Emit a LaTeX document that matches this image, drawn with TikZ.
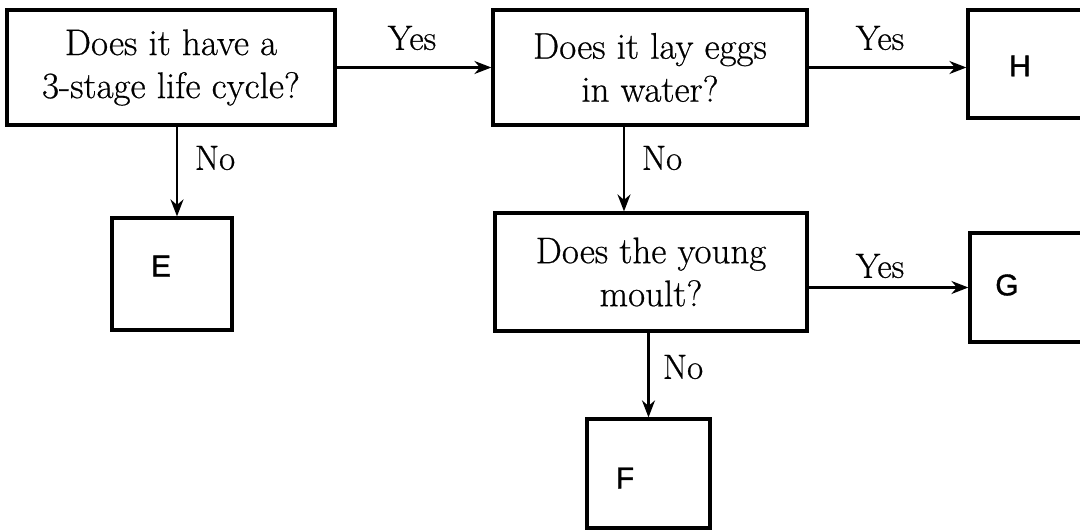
\documentclass[tikz,border=0pt]{standalone}
\usepackage{fontspec}
\setmainfont{Latin Modern Roman}[FakeBold=0.6]
\newfontfamily\lettfont{Liberation Sans}[FakeBold=1.2]
\usetikzlibrary{arrows.meta}
\begin{document}
\begin{tikzpicture}[x=1pt,y=-1pt,
  box/.style={draw, line width=3.2pt, rectangle, inner sep=0pt},
  qtext/.style={font=\fontsize{37}{43}\selectfont, align=center},
  lab/.style={font=\fontsize{35}{40}\selectfont, inner sep=0pt},
  letter/.style={font=\lettfont\fontsize{30}{32}\selectfont, inner sep=0pt},
  conn/.style={line width=2.2pt, -{Stealth[length=17pt,width=13pt]}}]
\useasboundingbox (0,0) rectangle (1080,532);
\clip (0,0) rectangle (1080,532);
% question boxes
\node[box, qtext, minimum width=328pt, minimum height=115pt] (q1) at (171,67.5) {Does it have a\\3-stage life cycle?};
\node[box, qtext, minimum width=314pt, minimum height=115pt] (q2) at (650,67.5) {Does it lay eggs\\in water?};
\node[box, qtext, minimum width=312pt, minimum height=118pt] (q3) at (651,272) {Does the young\\moult?};
% answer boxes
\node[box, minimum width=120pt, minimum height=112pt] (e) at (172,274) {};
\node[box, minimum width=123pt, minimum height=109pt] (f) at (648.5,473.5) {};
\node[box, minimum width=130pt, minimum height=109pt] (g) at (1035,287.5) {};
\node[box, minimum width=130pt, minimum height=108pt] (h) at (1033,64) {};
\node[letter] (eL) at (161,266) {E};
\node[letter] (fL) at (625,478) {F};
\node[letter] (gL) at (1007,285) {G};
\node[letter] (hL) at (1020,66) {H};
% connectors
\draw[conn] (q1.east) -- (q2.west);
\draw[conn] (q2.east) -- (q2.east -| h.west);
\draw[conn] ([xshift=6pt]q1.south) -- ([xshift=6pt]q1.south |- e.north);
\draw[conn] ([xshift=-26pt]q2.south) -- ([xshift=-26pt]q2.south |- q3.north);
\draw[conn] (q3.east |- g.west) -- (g.west);
\draw[conn] (f.north |- q3.south) -- (f.north);
% labels
\node[lab] (y1) at (412,38) {Yes};
\node[lab] (y2) at (880,38) {Yes};
\node[lab] (y3) at (880,266) {Yes};
\node[lab] (n1) at (215,158) {No};
\node[lab] (n2) at (662,158) {No};
\node[lab] (n3) at (683,367) {No};
\end{tikzpicture}
\end{document}
